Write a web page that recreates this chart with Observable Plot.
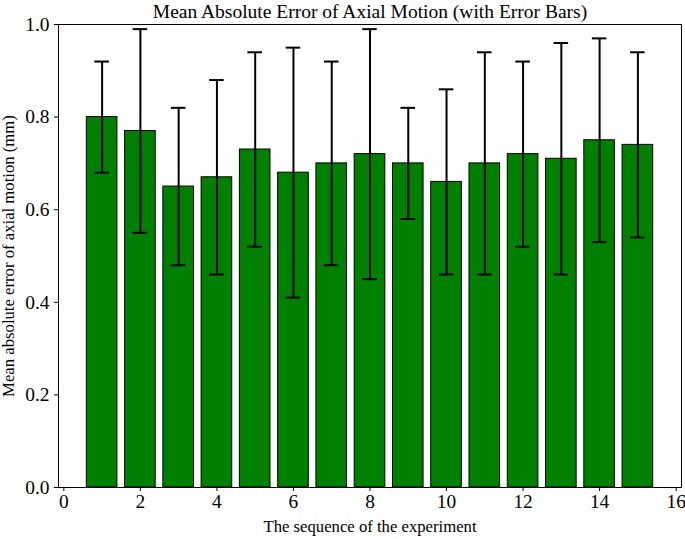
<!DOCTYPE html>
<html>
<head>
<meta charset="utf-8">
<script src="https://cdn.jsdelivr.net/npm/d3@7"></script>
<script src="https://cdn.jsdelivr.net/npm/@observablehq/plot@0.6"></script>
<style>
  html, body { margin: 0; padding: 0; background: #fff; }
</style>
</head>
<body>
<div id="chart"></div>
<script>
const experiments = [1, 2, 3, 4, 5, 6, 7, 8, 9, 10, 11, 12, 13, 14, 15];
const meanErrors = [0.80, 0.77, 0.65, 0.67, 0.73, 0.68, 0.70, 0.72, 0.70, 0.66, 0.70, 0.72, 0.71, 0.75, 0.74];
const stdErrors  = [0.12, 0.22, 0.17, 0.21, 0.21, 0.27, 0.22, 0.27, 0.12, 0.20, 0.24, 0.20, 0.25, 0.22, 0.20];
const xTicks = [0, 2, 4, 6, 8, 10, 12, 14, 16];
const yTicks = [0.0, 0.2, 0.4, 0.6, 0.8, 1.0];
const titleText = "Mean Absolute Error of Axial Motion (with Error Bars)";
const xLabel = "The sequence of the experiment";
const yLabel = "Mean absolute error of axial motion (mm)";

const data = experiments.map((x, i) => ({x, y: meanErrors[i], e: stdErrors[i]}));
const barHalf = 0.4;
const capHalf = 0.19;

const chart = Plot.plot({
  width: 685,
  height: 539,
  marginLeft: 58,
  marginRight: 4,
  marginTop: 24,
  marginBottom: 52,
  style: {fontFamily: "'Liberation Serif', 'Times New Roman', serif", fontSize: "19px", color: "#000", background: "#fff"},
  x: {domain: [-0.14, 16.14]},
  y: {domain: [0, 1]},
  marks: [
    Plot.rect(data, {x1: d => d.x - barHalf, x2: d => d.x + barHalf, y1: 0, y2: "y", fill: "#008000", stroke: "#000", strokeWidth: 1}),
    Plot.ruleX(data, {x: "x", y1: d => d.y - d.e, y2: d => d.y + d.e, stroke: "#000", strokeWidth: 2}),
    Plot.ruleY(data, {y: d => d.y + d.e, x1: d => d.x - capHalf, x2: d => d.x + capHalf, stroke: "#000", strokeWidth: 2}),
    Plot.ruleY(data, {y: d => d.y - d.e, x1: d => d.x - capHalf, x2: d => d.x + capHalf, stroke: "#000", strokeWidth: 2}),
    Plot.frame({stroke: "#000", strokeWidth: 1}),
    Plot.axisX({ticks: xTicks, tickFormat: d => String(d), tickSize: 4, tickPadding: 3, fontSize: 19.4, label: null}),
    Plot.axisY({ticks: yTicks, tickFormat: d => d.toFixed(1), tickSize: 4, tickPadding: 5, fontSize: 19.4, label: null}),
    Plot.text([xLabel], {text: d => d, frameAnchor: "bottom", dy: 39, fontSize: 16.7, lineAnchor: "middle"}),
    Plot.text([yLabel], {text: d => d, frameAnchor: "left", textAnchor: "middle", dx: -49.5, rotate: -90, fontSize: 16.7, lineAnchor: "middle"}),
    Plot.text([titleText], {text: d => d, frameAnchor: "top", dy: -13, fontSize: 19.5, lineAnchor: "middle"})
  ]
});
document.getElementById("chart").appendChild(chart);
</script>
</body>
</html>
